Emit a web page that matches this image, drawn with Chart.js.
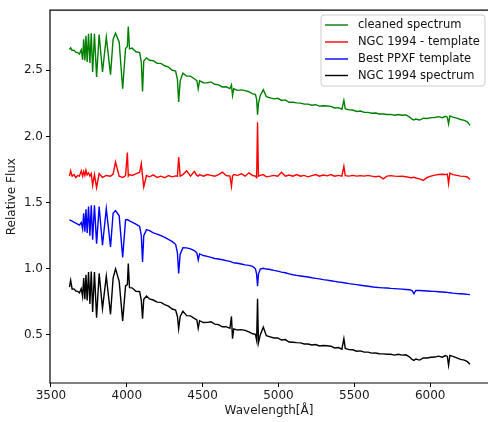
<!DOCTYPE html>
<html>
<head>
<meta charset="utf-8">
<script src="https://cdn.jsdelivr.net/npm/chart.js@4.4.1/dist/chart.umd.min.js"></script>
<style>
html,body{margin:0;padding:0;background:#fff;overflow:hidden;width:488px;height:422px;}
canvas{display:block;}
</style>
</head>
<body>
<canvas id="c" width="488" height="422" style="width:488px;height:422px"></canvas>
<script>
// Wavelength grid (Angstrom)
const wavelength = [3622,3630,3640,3652,3664,3676,3688,3700,3709,3716,3724,3731,3739,3748,3757,3766,3775,3787,3801,3818,3840,3865,3893,3910,3926,3950,3973,3992,4004,4010,4018,4035,4060,4085,4096,4104,4112,4130,4150,4175,4200,4225,4250,4275,4300,4322,4334,4342,4352,4370,4395,4420,4445,4462,4471,4480,4505,4530,4555,4580,4605,4630,4655,4680,4690,4697,4705,4730,4755,4780,4805,4830,4848,4856,4862,4868,4880,4900,4920,4945,4970,4995,5020,5045,5070,5095,5120,5145,5170,5195,5220,5245,5270,5295,5320,5345,5370,5395,5418,5431,5440,5465,5490,5515,5540,5565,5590,5615,5640,5665,5690,5715,5740,5765,5790,5815,5840,5865,5880,5893,5905,5930,5955,5980,6005,6030,6055,6080,6100,6113,6121,6130,6150,6175,6200,6225,6245,6262];

const cleanedSpectrum = [2.656,2.670,2.650,2.652,2.636,2.634,2.622,2.655,2.580,2.735,2.575,2.760,2.563,2.775,2.555,2.780,2.487,2.775,2.450,2.770,2.487,2.750,2.467,2.735,2.780,2.712,2.360,2.665,2.680,2.830,2.662,2.668,2.640,2.634,2.560,2.340,2.570,2.594,2.576,2.572,2.552,2.552,2.534,2.524,2.500,2.494,2.430,2.260,2.420,2.478,2.456,2.456,2.436,2.422,2.360,2.420,2.406,2.405,2.412,2.394,2.390,2.374,2.375,2.362,2.390,2.310,2.360,2.348,2.352,2.346,2.338,2.322,2.318,2.280,2.165,2.250,2.310,2.354,2.300,2.292,2.284,2.288,2.272,2.276,2.258,2.258,2.254,2.252,2.244,2.244,2.236,2.240,2.229,2.232,2.230,2.227,2.215,2.218,2.206,2.273,2.210,2.201,2.200,2.189,2.192,2.182,2.182,2.175,2.177,2.170,2.170,2.166,2.167,2.160,2.166,2.160,2.162,2.146,2.130,2.125,2.132,2.124,2.138,2.136,2.142,2.143,2.150,2.142,2.152,2.146,2.095,2.155,2.146,2.138,2.128,2.122,2.110,2.084];

const residualTemplate = [1.700,1.740,1.700,1.712,1.690,1.705,1.700,1.740,1.700,1.735,1.705,1.745,1.710,1.725,1.700,1.720,1.630,1.712,1.613,1.720,1.690,1.705,1.700,1.715,1.807,1.700,1.690,1.705,1.878,1.700,1.712,1.705,1.718,1.730,1.795,1.700,1.618,1.705,1.695,1.710,1.690,1.700,1.688,1.705,1.695,1.702,1.700,1.845,1.700,1.712,1.740,1.700,1.735,1.705,1.700,1.712,1.700,1.712,1.706,1.700,1.712,1.730,1.705,1.700,1.623,1.700,1.712,1.706,1.718,1.700,1.725,1.705,1.700,1.690,2.107,1.700,1.706,1.712,1.695,1.700,1.706,1.700,1.730,1.700,1.708,1.700,1.712,1.700,1.706,1.695,1.704,1.712,1.700,1.708,1.702,1.712,1.700,1.706,1.700,1.774,1.704,1.700,1.706,1.700,1.704,1.700,1.706,1.700,1.696,1.700,1.680,1.700,1.704,1.700,1.698,1.700,1.696,1.690,1.688,1.692,1.686,1.680,1.668,1.690,1.700,1.708,1.712,1.714,1.712,1.716,1.643,1.724,1.712,1.706,1.700,1.698,1.694,1.674];

const bestTemplate = [1.370,1.366,1.360,1.352,1.345,1.338,1.330,1.350,1.300,1.420,1.280,1.450,1.270,1.470,1.250,1.480,1.220,1.480,1.190,1.470,1.178,1.455,1.165,1.420,1.440,1.400,1.085,1.370,1.372,1.368,1.362,1.352,1.338,1.320,1.250,1.052,1.250,1.296,1.288,1.272,1.262,1.250,1.238,1.222,1.205,1.185,1.120,0.965,1.110,1.160,1.158,1.150,1.138,1.120,1.066,1.112,1.100,1.094,1.086,1.078,1.074,1.068,1.062,1.056,1.052,1.048,1.046,1.042,1.036,1.030,1.026,1.018,1.000,0.960,0.868,0.960,0.998,1.004,0.998,0.995,0.988,0.982,0.975,0.970,0.962,0.955,0.950,0.946,0.942,0.938,0.932,0.928,0.924,0.918,0.914,0.910,0.905,0.900,0.897,0.895,0.893,0.888,0.884,0.880,0.876,0.872,0.868,0.864,0.860,0.858,0.856,0.855,0.852,0.850,0.848,0.846,0.844,0.842,0.835,0.812,0.836,0.836,0.834,0.832,0.830,0.829,0.827,0.825,0.823,0.822,0.820,0.819,0.816,0.813,0.811,0.809,0.807,0.805];

const ngcSpectrum = [0.862,0.913,0.846,0.848,0.832,0.830,0.818,0.850,0.790,0.930,0.770,0.955,0.760,0.975,0.735,0.980,0.673,0.975,0.630,0.965,0.700,0.945,0.656,0.930,1.000,0.905,0.605,0.870,0.880,1.040,0.858,0.856,0.830,0.828,0.760,0.623,0.770,0.794,0.772,0.764,0.748,0.746,0.730,0.718,0.696,0.688,0.640,0.547,0.640,0.680,0.646,0.644,0.626,0.614,0.550,0.608,0.594,0.595,0.600,0.582,0.578,0.562,0.563,0.550,0.640,0.472,0.546,0.537,0.540,0.535,0.523,0.509,0.505,0.460,0.774,0.440,0.500,0.560,0.495,0.486,0.477,0.478,0.462,0.465,0.447,0.445,0.442,0.440,0.432,0.432,0.424,0.428,0.417,0.420,0.418,0.415,0.402,0.405,0.393,0.472,0.398,0.389,0.388,0.377,0.380,0.370,0.370,0.363,0.364,0.358,0.357,0.354,0.354,0.348,0.354,0.348,0.350,0.333,0.315,0.308,0.318,0.310,0.327,0.326,0.332,0.333,0.340,0.332,0.344,0.338,0.270,0.346,0.338,0.327,0.316,0.310,0.298,0.278];

const seriesLabels = ['cleaned spectrum','NGC 1994 - template','Best PPXF template','NGC 1994 spectrum'];
const seriesColors = ['#008000','#ff0000','#0000ff','#000000'];
const seriesValues = [cleanedSpectrum, residualTemplate, bestTemplate, ngcSpectrum];

const xTicks = [3500,4000,4500,5000,5500,6000];
const yTicks = [0.5,1.0,1.5,2.0,2.5];

const FONT = 'DejaVu Sans';

const datasets = seriesValues.map((vals, k) => ({
  label: seriesLabels[k],
  data: wavelength.map((w, i) => ({x: w, y: vals[i]})),
  borderColor: seriesColors[k],
  backgroundColor: seriesColors[k],
  borderWidth: 1.4,
  pointRadius: 0,
  tension: 0,
  fill: false
}));

const framePlugin = {
  id: 'frame',
  afterDraw(chart) {
    const {ctx, chartArea: a, width} = chart;
    ctx.save();
    // keep the right edge clean (axes continue beyond the picture)
    ctx.fillStyle = '#fff';
    ctx.fillRect(width - 2, 0, 2, chart.height);
    ctx.strokeStyle = '#000';
    ctx.lineWidth = 1.2;
    ctx.beginPath();
    ctx.moveTo(width, a.top);
    ctx.lineTo(a.left, a.top);
    ctx.lineTo(a.left, a.bottom);
    ctx.lineTo(width, a.bottom);
    ctx.stroke();
    // legend
    const L = 321, T = 15, R = 485, B = 86, r = 3;
    ctx.beginPath();
    ctx.moveTo(L + r, T);
    ctx.lineTo(R - r, T); ctx.quadraticCurveTo(R, T, R, T + r);
    ctx.lineTo(R, B - r); ctx.quadraticCurveTo(R, B, R - r, B);
    ctx.lineTo(L + r, B); ctx.quadraticCurveTo(L, B, L, B - r);
    ctx.lineTo(L, T + r); ctx.quadraticCurveTo(L, T, L + r, T);
    ctx.closePath();
    ctx.fillStyle = 'rgba(255,255,255,0.8)';
    ctx.fill();
    ctx.strokeStyle = '#cccccc';
    ctx.lineWidth = 1;
    ctx.stroke();
    const rows = [25, 42, 59, 75.5];
    ctx.font = '11.5px "' + FONT + '"';
    ctx.textBaseline = 'middle';
    ctx.textAlign = 'left';
    chart.data.datasets.forEach((ds, i) => {
      ctx.strokeStyle = ds.borderColor;
      ctx.lineWidth = 1.4;
      ctx.beginPath();
      ctx.moveTo(325, rows[i]);
      ctx.lineTo(348, rows[i]);
      ctx.stroke();
      ctx.fillStyle = '#111';
      ctx.fillText(ds.label, 358, rows[i] + 0.5);
    });
    ctx.restore();
  }
};

new Chart(document.getElementById('c'), {
  type: 'line',
  data: {datasets},
  plugins: [framePlugin],
  options: {
    responsive: false,
    animation: false,
    devicePixelRatio: 1,
    layout: {padding: {top: 10, right: 0, left: 0, bottom: 0}},
    plugins: {legend: {display: false}, tooltip: {enabled: false}},
    scales: {
      x: {
        type: 'linear',
        min: 3494,
        max: 6381,
        afterBuildTicks: s => { s.ticks = xTicks.map(v => ({value: v})); },
        afterFit: s => { s.height = 39; s.paddingRight = 0; },
        grid: {display: true, drawOnChartArea: false, drawTicks: true, tickLength: 4, color: '#000', lineWidth: 1},
        border: {display: false},
        ticks: {color: '#1a1a1a', font: {family: FONT, size: 12}, padding: 2, maxRotation: 0, callback: v => String(v)},
        title: {display: true, text: 'Wavelength[Å]', color: '#1a1a1a', font: {family: FONT, size: 12}, padding: {top: 0, bottom: 4}}
      },
      y: {
        type: 'linear',
        min: 0.137,
        max: 2.954,
        afterBuildTicks: s => { s.ticks = yTicks.map(v => ({value: v})); },
        afterFit: s => { s.width = 50; },
        grid: {display: true, drawOnChartArea: false, drawTicks: true, tickLength: 4, color: '#000', lineWidth: 1},
        border: {display: false},
        ticks: {color: '#1a1a1a', font: {family: FONT, size: 12}, padding: 3, callback: v => v.toFixed(1)},
        title: {display: true, text: 'Relative Flux', color: '#1a1a1a', font: {family: FONT, size: 12}, padding: {top: 5, bottom: 0}}
      }
    }
  }
});
</script>
</body>
</html>
